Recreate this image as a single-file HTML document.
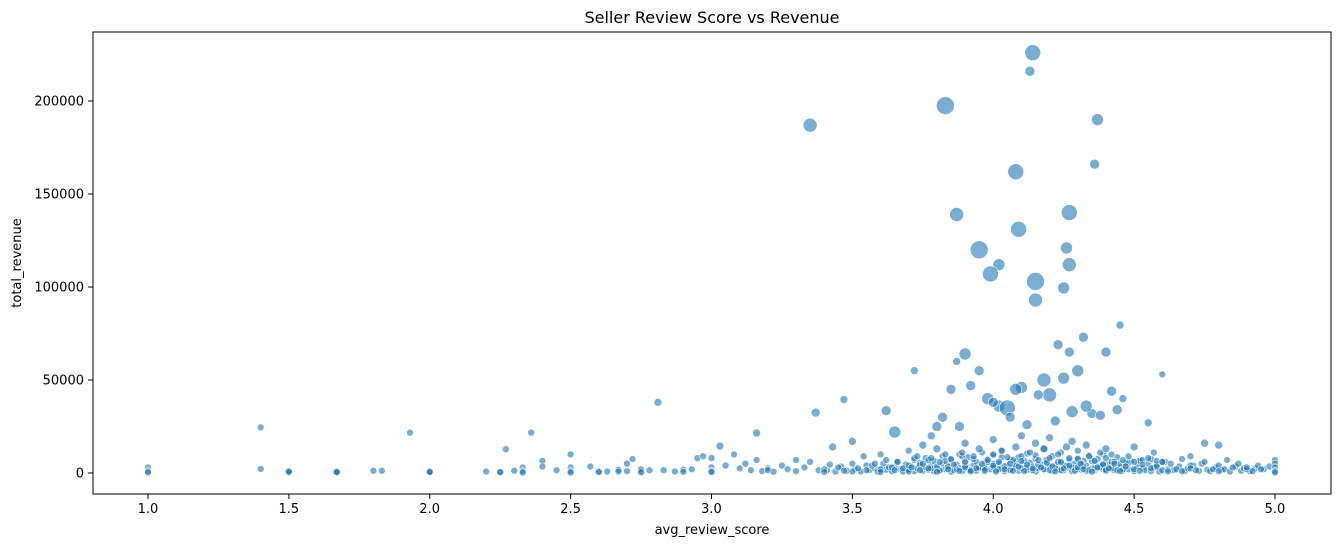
<!DOCTYPE html>
<html><head><meta charset="utf-8"><style>
body{margin:0;background:#fff;}
svg{display:block;font-family:"DejaVu Sans","Liberation Sans",sans-serif;}
</style></head><body>
<svg id="chart" width="1342" height="547">
<defs><clipPath id="pc"><rect x="93" y="32" width="1238" height="462"/></clipPath></defs>
<text x="712" y="23" text-anchor="middle" font-size="16">Seller Review Score vs Revenue</text>
<rect x="93" y="32" width="1238" height="462" fill="none" stroke="#000" stroke-width="1"/>
<g id="marks" clip-path="url(#pc)"></g>
<g id="xaxis"></g>
<g id="yaxis"></g>
<text x="712" y="534" text-anchor="middle" font-size="13">avg_review_score</text>
<text transform="translate(21,263) rotate(-90)" text-anchor="middle" font-size="13">total_revenue</text>
</svg>
<script>
const xTicks=[1.0,1.5,2.0,2.5,3.0,3.5,4.0,4.5,5.0];
const xTickLabels=["1.0","1.5","2.0","2.5","3.0","3.5","4.0","4.5","5.0"];
const yTicks=[0,50000,100000,150000,200000];
const yTickLabels=["0","50000","100000","150000","200000"];
const scoreBig=[4.14,4.13,3.83,3.35,4.37,4.36,4.08,3.87,4.27,4.09,3.95,4.26,4.02,4.27,3.99,4.15,4.25,4.15,4.45,4.32,4.23,4.40,4.27,3.90,3.87,3.72,4.60,2.81,1.40,1.93,2.36,2.27,4.46,3.37,3.47,3.62,3.65,3.82,4.02,4.20,4.10,3.98,4.30,4.42,4.05,3.92,4.18,4.35,3.85,4.00,4.22,4.28,4.12,3.80,4.38,4.55,4.08,3.95,4.25,4.33,3.88,4.16,4.44,3.78,4.06];
const revenueBig=[226000,216000,197500,187000,190000,166000,162000,139000,140000,131000,120000,121000,112000,112000,107000,103000,99500,93000,79500,73000,69000,65000,65000,64000,60000,55000,53000,38000,24500,21700,21700,12800,40000,32500,39500,33500,22000,30000,36000,42000,46000,40000,55000,44000,35000,47000,50000,32000,45000,38000,28000,33000,26000,25000,31000,27000,45000,55000,51000,36000,25000,42000,34000,20000,30000];
const sizeBig=[8,5,9,7,6,5,8,7,8,8,9,6,6,7,8,9,6,7,4,5,5,5,5,6,4,4,3.5,4,3.5,3.5,3.5,3.5,4,4.5,4,5,6,5,6,7,6,6,6,5,8,5,7,5,5,5,5,6,5,5,5,4,6,5,6,6,5,5,5,4,5];
const scoreLow=[1.0,1.0,1.0,1.4,1.5,1.5,1.5,1.67,1.67,1.67,1.8,1.83,2.0,2.0,2.0,2.2,2.25,2.25,2.3,2.33,2.33,2.33,2.4,2.4,2.45,2.5,2.5,2.5,2.5,2.57,2.6,2.6,2.63,2.67,2.67,2.7,2.7,2.72,2.75,2.75,2.75,2.78,2.83,2.87,2.9,2.9,2.93,2.95,2.97,3.0,3.0,3.0,3.0,3.03,3.05,3.08,3.1,3.12,3.14,3.16,3.16,3.18,3.2,3.2,3.22,3.25,3.27,3.3,3.3,3.33,3.35,3.38,3.4,3.4,3.42,3.43,3.45,3.47,3.5,3.5,3.5,3.52,3.54,3.55,3.57,3.58,3.6,3.6,3.6,3.62,3.64,3.65,3.66,3.68,3.7,3.7,3.7,3.71,3.73,3.74,3.75,3.75,3.77,3.78,3.8,3.8,3.8,3.81,3.83,3.84,3.85,3.86,3.88,3.89,3.9,3.9,3.9,3.92,3.93,3.94,3.95,3.96,3.97,3.98,4.0,4.0,4.0,4.0,4.01,4.02,4.03,4.04,4.05,4.06,4.07,4.08,4.09,4.1,4.1,4.1,4.11,4.12,4.13,4.14,4.15,4.16,4.17,4.18,4.19,4.2,4.2,4.2,4.21,4.22,4.23,4.24,4.25,4.26,4.27,4.28,4.29,4.3,4.3,4.3,4.31,4.32,4.33,4.34,4.35,4.36,4.37,4.38,4.39,4.4,4.4,4.4,4.41,4.42,4.43,4.45,4.46,4.47,4.48,4.5,4.5,4.5,4.52,4.53,4.55,4.56,4.57,4.58,4.6,4.6,4.62,4.63,4.65,4.67,4.67,4.7,4.7,4.7,4.72,4.75,4.75,4.78,4.8,4.8,4.8,4.83,4.85,4.87,4.9,4.9,4.92,4.95,5.0,5.0,5.0,5.0,5.0];
const revenueLow=[3000,1000,300,2200,600,300,800,1000,300,500,1200,1200,1000,300,600,800,300,500,1200,3000,1000,300,6500,3500,1500,10000,3000,1000,300,3500,1000,500,800,1800,800,5000,1000,7500,1000,2000,400,1500,1500,800,1800,600,2000,8000,9000,8000,3000,1000,500,14500,4000,10000,2500,5000,1500,21500,7000,1000,2500,1500,700,4000,2000,7000,1000,3000,6000,1500,2000,600,4500,14000,3000,1200,17000,5000,800,2500,9000,1500,4000,5000,10000,2000,500,7000,3000,1500,6000,2500,12000,4000,800,3000,9000,1500,15000,5000,2500,8000,13000,3500,700,6000,10000,2000,7500,4500,1200,11000,3000,16000,6000,900,9000,2500,13000,5000,1500,7000,3000,18000,10000,4000,800,6000,12000,2000,8500,5000,1200,14000,3500,9000,6500,20000,1000,4500,11000,2500,16000,7000,3000,13000,5500,1500,19000,8000,3500,900,10000,6000,2500,14000,4000,17000,1200,7500,3000,12000,5000,2000,15000,9000,700,6500,3000,11000,4500,1500,13000,8000,2500,10000,5000,1000,7000,3500,9000,2000,14000,6000,1200,4500,8000,2500,11000,3500,1500,6000,900,5000,2000,7500,1000,4000,9000,2500,1500,16000,6000,2000,4000,1000,15000,7000,3000,5000,2000,3000,1000,2000,7000,5000,3000,1000,300];
const scoreDense=[3.41,3.44,3.46,3.48,3.51,3.53,3.55,3.56,3.58,3.59,3.61,3.62,3.63,3.64,3.66,3.67,3.68,3.69,3.70,3.71,3.72,3.72,3.73,3.74,3.75,3.76,3.76,3.77,3.78,3.79,3.79,3.80,3.81,3.82,3.82,3.83,3.84,3.85,3.85,3.86,3.87,3.88,3.88,3.89,3.90,3.91,3.91,3.92,3.93,3.94,3.94,3.95,3.96,3.97,3.97,3.98,3.99,4.00,4.00,4.01,4.02,4.03,4.03,4.04,4.05,4.06,4.06,4.07,4.08,4.09,4.09,4.10,4.11,4.12,4.12,4.13,4.14,4.15,4.15,4.16,4.17,4.18,4.18,4.19,4.20,4.21,4.21,4.22,4.23,4.24,4.24,4.25,4.26,4.27,4.27,4.28,4.29,4.30,4.30,4.31,4.32,4.33,4.33,4.34,4.35,4.36,4.36,4.37,4.38,4.39,4.39,4.40,4.41,4.42,4.42,4.43,4.44,4.45,4.45,4.46,4.47,4.48,4.49,4.50,4.51,4.52,4.53,4.54,4.55,4.56,4.57,4.58,4.59,4.61,4.62,4.64,4.66,4.68,4.69,4.71,4.73,4.74,4.76,4.77,4.79,4.81,4.82,4.84,4.86,4.88,4.89,4.91,4.93,4.94,4.96,4.98,
3.60,3.65,3.70,3.74,3.78,3.81,3.84,3.87,3.90,3.92,3.95,3.97,4.00,4.02,4.04,4.06,4.08,4.10,4.12,4.14,4.16,4.18,4.20,4.22,4.24,4.26,4.28,4.30,4.32,4.34,4.36,4.38,4.40,4.42,4.44,4.46,4.48,4.52,4.56,4.60,
3.72,3.77,3.83,3.89,3.93,3.98,4.03,4.07,4.11,4.15,4.19,4.23,4.27,4.31,4.35,4.39,4.43,4.47,4.53,4.58];
const revenueDense=[1500,800,3500,1200,2000,900,4000,1500,2500,700,5000,1800,3000,1000,6000,2200,800,4500,1500,3500,7000,1000,2500,5500,1200,3000,8000,1800,4000,900,6500,2500,1300,5000,9000,2000,3500,700,7000,1500,4500,10000,2500,1000,5500,3000,8500,1800,4000,1200,6000,2800,11000,900,4500,7500,2000,3500,9500,1500,5000,2500,12000,1000,4000,7000,2000,3000,6000,1200,8500,4500,2500,10500,1500,5500,3500,800,7500,2500,4500,13000,1800,6000,3000,1000,9000,4000,2000,5500,11000,1500,3500,7000,2500,1000,5000,8000,3000,1800,6500,4000,1200,9500,2500,5000,1500,7500,3500,2000,10000,1000,4500,6000,2500,1500,8500,3000,5000,1200,4000,2000,6500,1000,3500,7000,2500,1500,5000,1000,3000,4500,800,6000,2000,1500,3500,1000,2500,4000,1200,5000,1800,1000,3000,1500,2000,800,3500,1200,2500,1000,
2500,4000,2000,3500,1500,3000,2000,4500,2500,1500,3500,2000,4000,1500,3000,2500,5000,2000,3500,1500,4000,2500,3000,1500,4500,2000,3500,2500,1500,4000,3000,2000,3500,1500,2500,3000,2000,2500,1500,2000,
5500,6500,7500,6000,8000,7000,6500,9000,7500,6000,8500,7000,6500,9500,7000,6000,8000,5500,6500,5000,6000,5500,7000,6500,5000,6000,7500,5500];
const xMin=1.0,xMax=5.0,xPx0=148,xPx1=1275;
const yMin=0,yMax=200000,yPx0=473,yPx1=101;
function xs(v){return xPx0+(v-xMin)/(xMax-xMin)*(xPx1-xPx0);}
function ys(v){return yPx0+(v-yMin)/(yMax-yMin)*(yPx1-yPx0);}
const NS="http://www.w3.org/2000/svg";
const marks=document.getElementById('marks');
function dot(x,y,r){
  if(x===undefined||y===undefined)return;
  const c=document.createElementNS(NS,'circle');
  c.setAttribute('cx',xs(x));c.setAttribute('cy',ys(y));c.setAttribute('r',r);
  c.setAttribute('fill','rgba(31,119,180,0.6)');c.setAttribute('stroke','#fff');c.setAttribute('stroke-width','0.6');
  
  
  marks.appendChild(c);
}
const nD=Math.min(scoreDense.length,revenueDense.length);
for(let i=0;i<nD;i++){dot(scoreDense[i],revenueDense[i],3.5);}
const nL=Math.min(scoreLow.length,revenueLow.length);
for(let i=0;i<nL;i++){dot(scoreLow[i],revenueLow[i],revenueLow[i]>12000?4:3.5);}
const nB=Math.min(scoreBig.length,revenueBig.length,sizeBig.length);
for(let i=0;i<nB;i++){dot(scoreBig[i],revenueBig[i],sizeBig[i]);}
const xa=document.getElementById('xaxis');
xTicks.forEach((t,i)=>{
  const x=xs(t);
  const l=document.createElementNS(NS,'line');
  l.setAttribute('x1',x);l.setAttribute('x2',x);l.setAttribute('y1',494);l.setAttribute('y2',499);l.setAttribute('stroke','#000');
  
  
  xa.appendChild(l);
  const tx=document.createElementNS(NS,'text');
  tx.setAttribute('x',x);tx.setAttribute('y',513);tx.setAttribute('text-anchor','middle');tx.setAttribute('font-size','13');
  tx.textContent=xTickLabels[i];
  
  
  xa.appendChild(tx);
});
const ya=document.getElementById('yaxis');
yTicks.forEach((t,i)=>{
  const y=ys(t);
  const l=document.createElementNS(NS,'line');
  l.setAttribute('x1',88);l.setAttribute('x2',93);l.setAttribute('y1',y);l.setAttribute('y2',y);l.setAttribute('stroke','#000');
  
  
  ya.appendChild(l);
  const tx=document.createElementNS(NS,'text');
  tx.setAttribute('x',84);tx.setAttribute('y',y+4.5);tx.setAttribute('text-anchor','end');tx.setAttribute('font-size','13');
  tx.textContent=yTickLabels[i];
  
  
  ya.appendChild(tx);
});
</script>
</body></html>
